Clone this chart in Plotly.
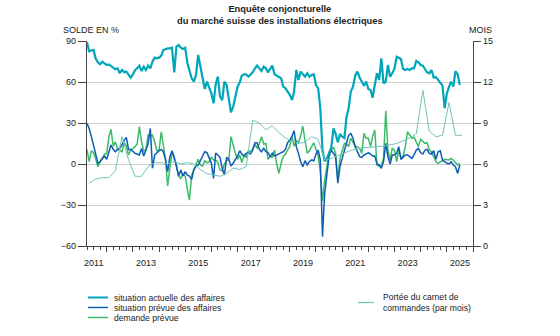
import pandas as pd
import plotly.graph_objects as go

# ---------------- data ----------------
months = pd.date_range("2011-04-01", periods=172, freq="MS")
quarters = pd.date_range("2011-05-01", periods=58, freq="3MS")

actuelle = [
    89, 82.5, 83, 83.5, 77, 74.4, 73, 74.9, 73.7, 72.4,
    72.9, 71.7, 70, 69.3, 70, 66.4, 68.8, 67.1, 67.6, 65.6,
    63.2, 65.6, 68.8, 70, 72, 68, 71.2, 68.8, 72, 70,
    74.9, 77.8, 77.3, 77.8, 79.3, 83.4, 84.2, 84.6, 84.6, 85.1,
    67.1, 85.9, 87.1, 85.1, 84.2, 85.1, 73.7, 68.8, 62.7, 60.3,
    65.1, 79.8, 71.2, 62.7, 54.9, 60.3, 55.4, 51.7, 44.4, 58,
    64, 49.3, 46.8, 60.3, 57.8, 48, 37.8, 42, 49.3, 56.6,
    59.8, 64.6, 65.6, 65.6, 63.9, 65.6, 67.1, 70, 72, 70,
    68, 71.2, 70, 67.1, 70, 72, 65.6, 64.6, 63.9, 62.7,
    56.6, 55.4, 53, 50.5, 46.8, 53, 68.8, 61.5, 67.6, 65.6,
    63.9, 66.4, 63.9, 65.1, 65.6, 57.8, 55.4, 40.8, 10, 2,
    4, 8, 12, 26, 22, 16, 22, 20, 19, 34,
    40.8, 53, 56.6, 64.6, 67.6, 63.2, 59.8, 57.3, 60.3, 54.9,
    54.2, 48.5, 57.8, 66.4, 61.5, 77.3, 59, 60.3, 72.4, 63.9,
    66.4, 70, 78.5, 77.8, 76.8, 69.5, 68.8, 69.5, 68.8, 70,
    70, 75.4, 74.4, 72.4, 72, 69.5, 67.1, 66.4, 68.8, 63.2,
    63.7, 61.5, 59.8, 57.3, 40.8, 51.7, 56.6, 60.3, 56.6, 68,
    65.6, 57.8,
]

prevue = [
    29.7, 26, 20, 14, 8, 0.5, 1.7, 3.4, 5.8, 3.4,
    8.3, 13.9, 10.7, 9, 10.7, 11.4, 13.9, 17.5, 19.5, 10.7,
    10.7, 9, 7.8, 7.3, 6.6, 11.4, 5.8, 10.2, 14.6, 26,
    -3, 6.6, 8.3, 9.7, 10.7, 9, 3.4, -5.6, 5.4, 9.7,
    4.9, -1.5, -8.8, -4.4, -8.8, -5.6, -8.1, -8.8, -11.2, -4.4,
    -1.5, -0.7, 2.4, 4.9, 9, 8.3, 4.9, 0.5, -10.5, 8,
    6.6, 4.9, -3.2, -8.1, 4.9, 3.4, -1.5, 0.5, 3.4, 5.8,
    9.7, 7.3, 5.8, 7.8, 8.3, 7.3, 10.2, 15.6, 15.6, 10.7,
    9, 11.4, 9, 8.3, 5.4, 7.8, 5.8, 6.6, 7, 7.8,
    9, 10.7, 15.6, 17.5, 20.5, 24.4, 12.7, 7.8, 1.7, -2,
    2.4, -0.7, 1.7, 3, 2.2, 7.3, 10.2, 3, -53.2, -21.5,
    -5.6, 5.4, 10.2, 7.8, 5.4, -14, -2, 4.1, 10.2, 14,
    21, 22.4, 18.8, 12.7, 9, 5.4, 4.9, 6.6, 7.3, 8.3,
    7.3, 5.8, 5.8, 0, -0.7, -3.2, 1.7, 15.1, 5.4, 0,
    6.6, 6.6, 7.8, 12.7, 3.4, 4.9, 6.6, 6.6, 5.4, 4.1,
    6.6, 10.2, 11.4, 8.3, 7.3, 10.2, 10.7, 7.8, 7.3, 9.7,
    3.4, 9, 9.7, 2.9, 1.7, 0.5, 0, 1.7, -0.7, -2,
    -6.9, -0.7,
]

demande = [
    10.7, 1.7, 9.7, 8.3, 3.4, -2, 1.7, 4.9, 7.3, 7.8,
    20, 25.3, 13.1, 16.3, 10.7, 10.2, 9, 15.6, 13.1, 6.6,
    10.2, 11.4, 12.7, 14.6, 27.3, 16.3, 9.7, 10.2, 21.2, 20.5,
    21.2, 16.3, 9.7, 10.2, 23.6, 13.9, 3.4, -16.1, -0.7, 9,
    4.1, -0.7, -8.8, -10.5, -7.3, -8.8, -19, -26.4, -8.1, -4.4,
    0.5, 3.4, -0.7, -1.5, 2.4, 0.9, 1.7, 4.9, 3, 3,
    1, -4.4, -4.9, 0, 2.4, 2.9, 20, 12.7, 7.8, 3.4,
    6.6, 1, 6.6, 4.9, 9.7, 9, 10.7, 14.6, 11.4, 14.6,
    20, 14.6, 15.1, 3.4, 5.4, 4.9, 10.2, 0, -6.9, 0.5,
    5.4, 7.3, 9.7, 13.1, 20, 13.1, 17.1, 15.6, 20.5, 27.8,
    17.1, 7.8, 9.7, 12.7, 15.6, 10.7, 5.8, -5.6, -27, -11.7,
    -0.7, 8.3, 10.2, 12.2, 7.8, -12, 4.1, 10.2, 15.1, 15,
    12.7, 18.8, 15.6, 13.1, 12.7, 11.4, 7.8, 22.4, 18.8, 18.8,
    12.7, 20, 24.8, -0.7, -1.5, -0.7, 4.1, 39, 10.2, 3,
    11.4, 10.2, 1.7, 10.2, 4.9, 5.8, 12.7, 23.6, 21.2, 18.8,
    19.5, 16.3, 12.7, 18, 16.3, 15.1, 15.6, 10.2, 9, 5.4,
    1.7, 0.5, 1.7, 2.4, 3.4, 3.4, 2.9, 4.1, 2.9, 1,
    -0.7, 0.5,
]

portee = [
    4.6, 4.9, 5.0, 5.0, 5.5, 8.0, 6.3, 5.1, 5.1, 5.8,
    6.1, 6.1, 6.0, 6.2, 6.0, 6.1, 6.0, 5.6, 5.3, 5.2,
    5.1, 5.3, 5.7, 5.6, 5.8, 9.2, 9.0, 8.5, 8.8, 8.3,
    7.9, 7.7, 7.5, 7.6, 8.0, 7.8, 6.3, 6.4, 6.6, 6.8,
    7.0, 7.1, 7.2, 7.2, 7.3, 7.3, 7.4, 7.5, 7.7, 7.9,
    8.2, 11.4, 8.4, 8.0, 8.1, 10.5, 8.1, 8.1,
]

year_ticks = pd.date_range("2012-01-01", "2026-01-01", freq="YS")
year_labels = [str(d.year - 1) if (d.year - 1) % 2 == 1 else "" for d in year_ticks]

names = ["situation actuelle des affaires", "situation prévue des affaires",
         "demande prévue", "Portée du carnet de<br>commandes (par mois)"]

# ---------------- style ----------------
C_ACT = "#00A6B9"
C_PRE = "#0E5DB4"
C_DEM = "#3DBA6A"
C_POR = "#72C3B9"
FONT = "Liberation Sans, Arial, sans-serif"
TXT = "#222222"

fig = go.Figure()
fig.add_trace(go.Scatter(x=quarters, y=portee, yaxis="y2", mode="lines",
                         line=dict(color=C_POR, width=1), name=names[3]))
fig.add_trace(go.Scatter(x=months, y=demande, mode="lines",
                         line=dict(color=C_DEM, width=1.5), name=names[2]))
fig.add_trace(go.Scatter(x=months, y=prevue, mode="lines",
                         line=dict(color=C_PRE, width=1.5), name=names[1]))
fig.add_trace(go.Scatter(x=months, y=actuelle, mode="lines",
                         line=dict(color=C_ACT, width=2.2), name=names[0]))

L, R, T, B = 87, 87, 41, 90
W, H = 560, 336
PW, PH = W - L - R, H - T - B


def px(x):
    return (x - L) / PW


def py(y):
    return (H - B - y) / PH


fig.update_layout(
    width=W, height=H,
    margin=dict(l=L, r=R, t=T, b=B, pad=0),
    paper_bgcolor="white", plot_bgcolor="white",
    showlegend=False,
    font=dict(family=FONT, size=9, color=TXT),
    xaxis=dict(
        type="date", range=["2011-04-01", "2026-01-01"],
        tickmode="array", tickvals=year_ticks, ticktext=year_labels,
        ticklabelshift=-13, ticklabelstandoff=3,
        ticks="outside", ticklen=5, tickwidth=1, tickcolor="#444",
        minor=dict(dtick="M3", tick0="2011-01-01", ticks="outside", ticklen=3,
                   tickwidth=1, tickcolor="#444", showgrid=False),
        showgrid=False, showline=True, linecolor="#444", linewidth=1.3,
        zeroline=False, tickfont=dict(size=9, color=TXT),
    ),
    yaxis=dict(
        range=[-60, 90], tickvals=[-60, -30, 0, 30, 60, 90],
        ticktext=["\u221260", "\u221230", "0", "30", "60", "90"],
        ticks="outside", ticklen=8, tickwidth=1, tickcolor="#444",
        showline=True, linecolor="#444", linewidth=1.3,
        showgrid=True, gridcolor="#cfcfcf", gridwidth=1, zeroline=False,
        tickfont=dict(size=9, color=TXT),
    ),
    yaxis2=dict(
        range=[0, 15], tickvals=[0, 3, 6, 9, 12, 15], overlaying="y", side="right",
        ticks="outside", ticklen=7, tickwidth=1, tickcolor="#444",
        showline=True, linecolor="#444", linewidth=1.3,
        showgrid=False, zeroline=False, tickfont=dict(size=9, color=TXT),
    ),
)

ann = [
    dict(text="<b>Enquête conjoncturelle<br>du marché suisse des installations électriques</b>",
         x=0.5, y=py(15), xref="paper", yref="paper", xanchor="center", yanchor="middle",
         showarrow=False, font=dict(size=9.3, color=TXT), align="center"),
    dict(text="SOLDE EN %", x=px(61), y=py(30.5), xref="paper", yref="paper",
         xanchor="left", yanchor="middle", showarrow=False, font=dict(size=9, color=TXT)),
    dict(text="MOIS", x=px(494), y=py(30.5), xref="paper", yref="paper",
         xanchor="right", yanchor="middle", showarrow=False, font=dict(size=9, color=TXT)),
]

legend_left = [(names[0], C_ACT, 2, 297.5), (names[1], C_PRE, 1.5, 307.5), (names[2], C_DEM, 1.5, 317.5)]
shapes = []
for name, col, w, yy in legend_left:
    shapes.append(dict(type="line", xref="paper", yref="paper", x0=px(88), x1=px(108),
                       y0=py(yy), y1=py(yy), line=dict(color=col, width=w)))
    ann.append(dict(text=name, x=px(112), y=py(yy), xref="paper", yref="paper",
                    xanchor="left", yanchor="middle", showarrow=False,
                    font=dict(size=8.6, color=TXT)))
shapes.append(dict(type="line", xref="paper", yref="paper", x0=px(358), x1=px(374),
                   y0=py(302.5), y1=py(302.5), line=dict(color=C_POR, width=1.2)))
ann.append(dict(text=names[3], x=px(381), y=py(302.5), xref="paper", yref="paper",
                xanchor="left", yanchor="middle", showarrow=False, align="left",
                font=dict(size=8.6, color=TXT)))

fig.update_layout(annotations=ann, shapes=shapes)
fig.write_html("out.html")
